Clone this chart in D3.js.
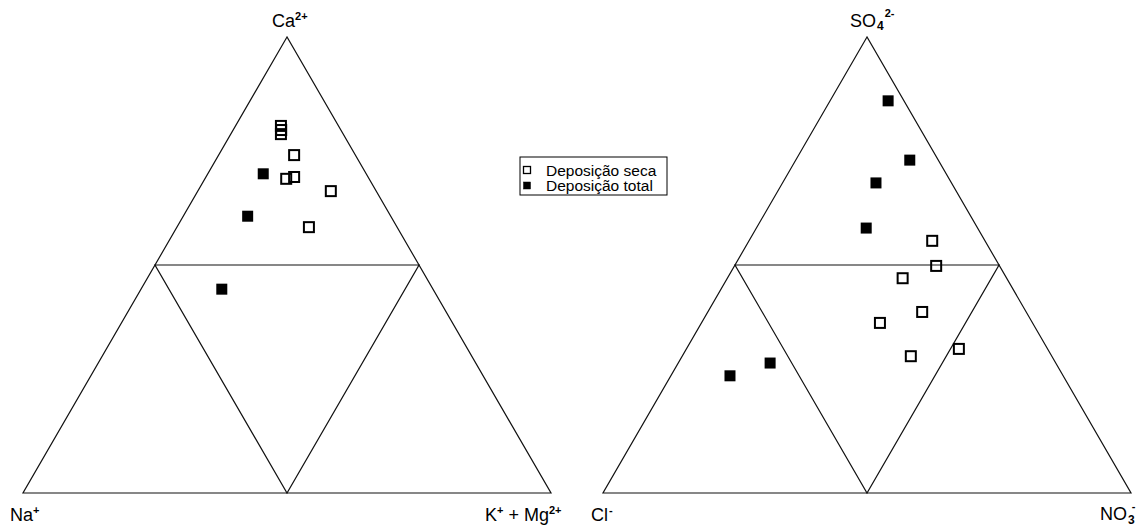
<!DOCTYPE html>
<html>
<head>
<meta charset="utf-8">
<script src="https://cdn.jsdelivr.net/npm/d3@7"></script>
<style>
  html, body { margin: 0; padding: 0; background: #fff; }
  svg { display: block; font-family: "Liberation Sans", Arial, sans-serif; }
</style>
</head>
<body>
<svg id="chart" width="1146" height="528"></svg>
<script>
// Cation diagram: [Ca2+, Na+, K+ + Mg2+] in %
const cationSeca = [
  [80.5, 10.9, 8.6],
  [79.6, 11.3, 9.1],
  [78.7, 11.8, 9.5],
  [74.1, 11.6, 14.3],
  [68.9, 15.7, 15.4],
  [69.3, 14.0, 16.7],
  [66.2, 8.6, 25.2],
  [58.3, 16.7, 25.0]
];
const cationTotal = [
  [70.0, 19.5, 10.5],
  [60.7, 27.1, 12.2],
  [44.7, 40.0, 15.3]
];
// Anion diagram: [SO4 2-, Cl-, NO3-] in %
const anionSeca = [
  [55.3, 10.0, 34.7],
  [49.8, 12.0, 38.2],
  [47.1, 19.7, 33.2],
  [39.7, 19.7, 40.6],
  [37.3, 28.9, 33.8],
  [30.0, 26.7, 43.3],
  [31.6, 16.8, 51.6]
];
const anionTotal = [
  [86.0, 3.0, 11.0],
  [73.0, 5.4, 21.6],
  [68.0, 14.3, 17.7],
  [58.1, 21.1, 20.8],
  [28.5, 54.1, 17.4],
  [25.7, 63.1, 11.2]
];
const legendLabels = ["Deposição seca", "Deposição total"];

const svg = d3.select("#chart");
const side = 528, baseY = 493, apexY = 37;

function superLabel(g, x, y, anchor, parts) {
  const t = g.append("text").attr("x", x).attr("y", y)
    .attr("text-anchor", anchor).attr("font-size", 18).attr("fill", "#000");
  parts.forEach(p => {
    const ts = t.append("tspan").text(p.text);
    if (p.kind === "sup") ts.attr("font-size", 11).attr("font-weight", "bold").attr("dy", p.dy);
    else if (p.kind === "sub") ts.attr("font-size", 12).attr("font-weight", "bold").attr("dy", p.dy);
    else if (p.dy) ts.attr("dy", p.dy);
    if (p.dx) ts.attr("dx", p.dx);
  });
  return t;
}

function ternary(x0, seca, total) {
  const g = svg.append("g");
  const xs = d3.scaleLinear().domain([0, 100]).range([x0, x0 + side]);
  const ys = d3.scaleLinear().domain([0, 100]).range([baseY, apexY]);
  // top, left, right composition -> screen position
  const px = d => xs(d[2] + d[0] / 2);
  const py = d => ys(d[0]);

  const corners = [[100, 0, 0], [0, 100, 0], [0, 0, 100]];
  const mids = [[50, 50, 0], [50, 0, 50], [0, 50, 50]];
  const line = d3.line().x(px).y(py);

  g.append("path").attr("d", line(corners) + "Z")
    .attr("fill", "none").attr("stroke", "#111").attr("stroke-width", 1.2);
  g.append("path").attr("d", line(mids) + "Z")
    .attr("fill", "none").attr("stroke", "#111").attr("stroke-width", 1.2);

  const s = 11;
  g.selectAll("rect.seca").data(seca).join("rect")
    .attr("class", "seca")
    .attr("x", d => px(d) - s / 2 + 0.5).attr("y", d => py(d) - s / 2 + 0.5)
    .attr("width", s - 1).attr("height", s - 1)
    .attr("fill", "none").attr("stroke", "#000").attr("stroke-width", 2);
  g.selectAll("rect.total").data(total).join("rect")
    .attr("class", "total")
    .attr("x", d => px(d) - s / 2).attr("y", d => py(d) - s / 2)
    .attr("width", s).attr("height", s)
    .attr("fill", "#000");
  return { xs, ys };
}

ternary(23, cationSeca, cationTotal);
ternary(603, anionSeca, anionTotal);

const labels = svg.append("g");
// cation axis labels
superLabel(labels, 272, 27, "start", [{ text: "Ca" }, { kind: "sup", text: "2+", dy: -7 }]);
superLabel(labels, 10, 521, "start", [{ text: "Na" }, { kind: "sup", text: "+", dy: -7 }]);
superLabel(labels, 485, 521, "start", [
  { text: "K" }, { kind: "sup", text: "+", dy: -7 }, { text: " + Mg", dy: 7 }, { kind: "sup", text: "2+", dy: -7 }
]);
// anion axis labels
superLabel(labels, 850, 27, "start", [
  { text: "SO" }, { kind: "sub", text: "4", dy: 3, dx: 1 }, { kind: "sup", text: "2-", dy: -13, dx: 1 }
]);
superLabel(labels, 591, 521, "start", [{ text: "Cl" }, { kind: "sup", text: "-", dy: -7, dx: 1 }]);
superLabel(labels, 1100, 520, "start", [
  { text: "NO" }, { kind: "sub", text: "3", dy: 4, dx: 1 }, { kind: "sup", text: "-", dy: -14, dx: -3 }
]);

// legend
const lg = svg.append("g").attr("transform", "translate(520,157)");
lg.append("rect").attr("x", 0).attr("y", 0).attr("width", 147).attr("height", 38)
  .attr("fill", "#fff").attr("stroke", "#000").attr("stroke-width", 1);
const item = lg.selectAll("g.item").data(legendLabels).join("g")
  .attr("class", "item")
  .attr("transform", (d, i) => `translate(0,${13 + i * 15.5})`);
item.append("rect")
  .attr("x", 3.5).attr("y", -3.5).attr("width", 7).attr("height", 7)
  .attr("fill", (d, i) => i === 0 ? "none" : "#000")
  .attr("stroke", "#000").attr("stroke-width", (d, i) => i === 0 ? 1.3 : 0.5);
item.append("text").attr("x", 26).attr("y", 5.5)
  .attr("font-size", 15.5).attr("fill", "#000").text(d => d);
</script>
</body>
</html>
